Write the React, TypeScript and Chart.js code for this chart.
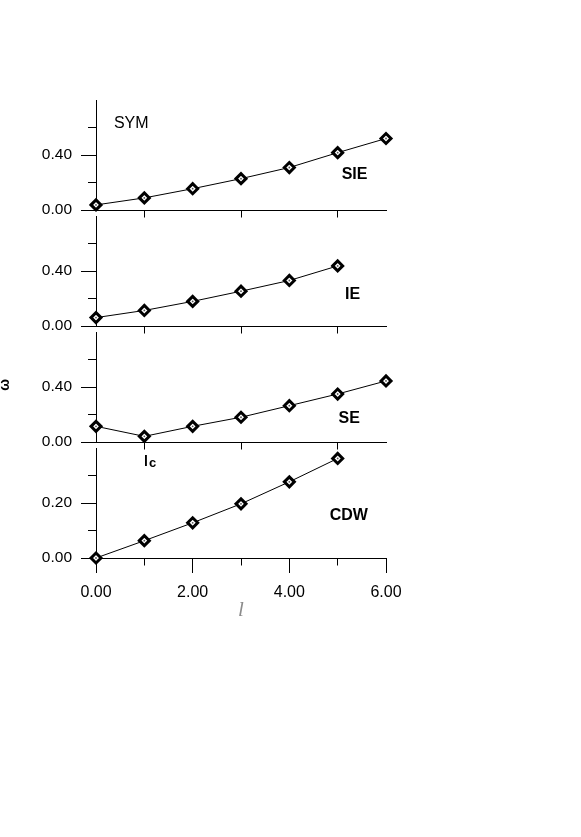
import React, { useEffect, useRef } from "react";
import { Chart, registerables } from "chart.js";

Chart.register(...registerables);

// ---- data ----
const xValues = [0, 1, 2, 3, 4, 5, 6];
const sieValues = [0.037, 0.088, 0.155, 0.228, 0.309, 0.417, 0.52];
const ieValues = [0.061, 0.113, 0.179, 0.253, 0.331, 0.437];
const seValues = [0.114, 0.041, 0.114, 0.18, 0.264, 0.349, 0.444];
const cdwValues = [0.0, 0.063, 0.128, 0.197, 0.277, 0.362];

const xTickLabels = ["0.00", "2.00", "4.00", "6.00"];
const yTickLabelsUpper = ["0.00", "0.40"];
const yTickLabelsCdw = ["0.00", "0.20"];
const xAxisTitle = "l";
const yAxisTitle = "ω";

const SANS = '"Liberation Sans", Arial, Helvetica, sans-serif';

type Note = {
  text: string;
  x: number;
  y: number;
  bold: boolean;
  size: number;
  sub?: string;
  rotate?: boolean;
};

type PanelCfg = {
  values: number[];
  yMax: number;
  major: number;
  minor: number;
  yLabels: string[];
  top: number;
  height: number;
  bottomAxis: boolean;
  notes: Note[];
};

const PAD_TOP = 20;
const AREA_H = 110;
const BOTTOM_AXIS_H = 65;
const UPPER_H = 168;

const panels: PanelCfg[] = [
  {
    values: sieValues,
    yMax: 0.8,
    major: 0.4,
    minor: 0.2,
    yLabels: yTickLabelsUpper,
    top: 80,
    height: UPPER_H,
    bottomAxis: false,
    notes: [
      { text: "SYM", x: 0.73, y: 0.63, bold: false, size: 16 },
      { text: "SIE", x: 5.35, y: 0.258, bold: true, size: 16 },
    ],
  },
  {
    values: ieValues,
    yMax: 0.8,
    major: 0.4,
    minor: 0.2,
    yLabels: yTickLabelsUpper,
    top: 196,
    height: UPPER_H,
    bottomAxis: false,
    notes: [{ text: "IE", x: 5.31, y: 0.229, bold: true, size: 16 }],
  },
  {
    values: seValues,
    yMax: 0.8,
    major: 0.4,
    minor: 0.2,
    yLabels: yTickLabelsUpper,
    top: 312,
    height: UPPER_H,
    bottomAxis: false,
    notes: [
      { text: "SE", x: 5.24, y: 0.168, bold: true, size: 16 },
      { text: "l", sub: "c", x: 1.12, y: -0.138, bold: true, size: 14 },
      { text: yAxisTitle, x: -1.87, y: 0.415, bold: true, size: 14, rotate: true },
    ],
  },
  {
    values: cdwValues,
    yMax: 0.4,
    major: 0.2,
    minor: 0.1,
    yLabels: yTickLabelsCdw,
    top: 428,
    height: PAD_TOP + AREA_H + BOTTOM_AXIS_H,
    bottomAxis: true,
    notes: [{ text: "CDW", x: 5.23, y: 0.153, bold: true, size: 16 }],
  },
];

function Panel({ cfg }: { cfg: PanelCfg }) {
  const ref = useRef<HTMLCanvasElement | null>(null);

  useEffect(() => {
    const canvas = ref.current;
    if (!canvas) return;
    const eps = 1e-6;
    const points = cfg.values.map((v, i) => ({ x: xValues[i], y: v }));

    const notesPlugin = {
      id: "notes",
      afterDatasetsDraw(chart: any) {
        const ctx = chart.ctx as CanvasRenderingContext2D;
        const xs = chart.scales.x;
        const ys = chart.scales.y;
        ctx.save();
        ctx.fillStyle = "#000";
        cfg.notes.forEach((n) => {
          const px = xs.getPixelForValue(n.x);
          const py = ys.getPixelForValue(n.y);
          const font = `${n.bold ? "bold " : ""}${n.size}px ${SANS}`;
          ctx.font = font;
          ctx.textBaseline = "middle";
          if (n.rotate) {
            ctx.save();
            ctx.translate(px, py);
            ctx.rotate(-Math.PI / 2);
            ctx.textAlign = "center";
            ctx.fillText(n.text, 0, 0);
            ctx.restore();
          } else if (n.sub) {
            const w1 = ctx.measureText(n.text).width;
            const subFont = `${n.bold ? "bold " : ""}${n.size - 1}px ${SANS}`;
            ctx.font = subFont;
            const w2 = ctx.measureText(n.sub).width;
            const start = px - (w1 + w2 + 1) / 2;
            ctx.textAlign = "left";
            ctx.textBaseline = "alphabetic";
            ctx.font = font;
            ctx.fillText(n.text, start, py + n.size * 0.36);
            ctx.font = subFont;
            ctx.fillText(n.sub, start + w1 + 1, py + n.size * 0.36 + 1);
          } else {
            ctx.textAlign = "center";
            ctx.fillText(n.text, px, py);
          }
        });
        ctx.restore();
      },
    };

    const chart = new Chart(canvas, {
      type: "line",
      data: {
        datasets: [
          {
            data: points,
            order: 0,
            showLine: false,
            pointStyle: "circle",
            pointRadius: 0.9,
            pointBorderWidth: 0,
            pointBackgroundColor: "#555",
            clip: false,
            xAxisID: "x",
            yAxisID: "y",
          } as any,
          {
            data: points,
            order: 1,
            borderColor: "#000",
            borderWidth: 1,
            tension: 0,
            fill: false,
            pointStyle: "rectRot",
            pointRadius: 5,
            pointBorderWidth: 3,
            pointBorderColor: "#000",
            pointBackgroundColor: "#fff",
            clip: false,
            xAxisID: "x",
            yAxisID: "y",
          } as any,
        ],
      },
      options: {
        animation: false,
        responsive: false,
        devicePixelRatio: 1,
        events: [],
        layout: {
          padding: {
            left: 0,
            right: 581 - 386,
            top: PAD_TOP,
            bottom: cfg.bottomAxis ? 0 : cfg.height - PAD_TOP - AREA_H,
          },
        },
        plugins: {
          legend: { display: false },
          tooltip: { enabled: false },
        },
        scales: {
          x: {
            type: "linear",
            position: "bottom",
            weight: 1,
            min: 0,
            max: 6,
            afterFit: (s: any) => {
              s.height = cfg.bottomAxis ? BOTTOM_AXIS_H : 0;
            },
            border: { display: false },
            grid: {
              drawOnChartArea: false,
              drawTicks: cfg.bottomAxis,
              tickLength: 15,
              color: cfg.bottomAxis ? "#000" : "rgba(0,0,0,0)",
              lineWidth: 1,
            },
            ticks: {
              display: cfg.bottomAxis,
              stepSize: 2,
              autoSkip: false,
              maxRotation: 0,
              padding: 10,
              color: "#000",
              font: { family: SANS, size: 16 },
              callback: (_v: any, i: number) => xTickLabels[i] ?? "",
            },
            title: {
              display: cfg.bottomAxis,
              text: xAxisTitle,
              color: "#8c8c8c",
              padding: 0,
              font: { family: '"Liberation Serif", "DejaVu Serif", serif', style: "italic", size: 21 },
            },
          },
          xm: {
            type: "linear",
            position: "bottom",
            weight: 0,
            min: 0,
            max: 6,
            afterFit: (s: any) => {
              s.height = 0;
            },
            border: { display: true, color: "#000", width: 1 },
            grid: {
              drawOnChartArea: false,
              drawTicks: true,
              tickLength: 7.5,
              lineWidth: 1,
              color: (c: any) => {
                const v = c.tick ? c.tick.value : 0;
                return Math.round(v) % 2 === 1 ? "#000" : "rgba(0,0,0,0)";
              },
            },
            ticks: { display: false, stepSize: 1, autoSkip: false },
          },
          y: {
            type: "linear",
            position: "left",
            weight: 1,
            min: 0,
            max: cfg.yMax,
            afterFit: (s: any) => {
              s.width = 96;
            },
            border: { display: true, color: "#000", width: 1 },
            grid: {
              drawOnChartArea: false,
              drawTicks: true,
              tickLength: 15,
              lineWidth: 1,
              color: (c: any) => {
                const v = c.tick ? c.tick.value : 0;
                return v < cfg.yMax - eps ? "#000" : "rgba(0,0,0,0)";
              },
            },
            ticks: {
              stepSize: cfg.major,
              autoSkip: false,
              padding: 9,
              color: "#000",
              font: { family: SANS, size: 15.5 },
              callback: (_v: any, i: number) => cfg.yLabels[i] ?? "",
            },
          },
          ym: {
            type: "linear",
            position: "left",
            weight: 0,
            min: 0,
            max: cfg.yMax,
            afterFit: (s: any) => {
              s.width = 0;
            },
            border: { display: false },
            grid: {
              drawOnChartArea: false,
              drawTicks: true,
              tickLength: 8,
              lineWidth: 1,
              color: (c: any) => {
                const v = c.tick ? c.tick.value : 0;
                return Math.round(v / cfg.minor) % 2 === 1 ? "#000" : "rgba(0,0,0,0)";
              },
            },
            ticks: { display: false, stepSize: cfg.minor, autoSkip: false },
          },
        },
      } as any,
      plugins: [notesPlugin],
    });

    return () => {
      chart.destroy();
    };
  }, [cfg]);

  return (
    <canvas
      ref={ref}
      width={581}
      height={cfg.height}
      style={{
        position: "absolute",
        left: 0,
        top: cfg.top,
        width: 581,
        height: cfg.height,
      }}
    />
  );
}

export default function App() {
  return (
    <div
      style={{
        position: "absolute",
        left: 0,
        top: 0,
        width: 581,
        height: 837,
        background: "#fff",
        overflow: "hidden",
      }}
    >
      {panels.map((p, i) => (
        <Panel key={i} cfg={p} />
      ))}
    </div>
  );
}
